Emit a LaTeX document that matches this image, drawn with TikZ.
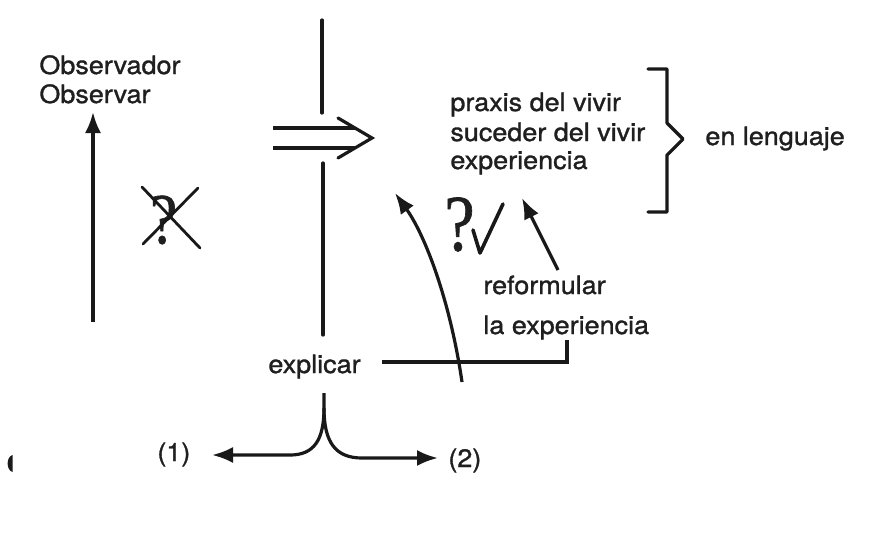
\documentclass[tikz,border=0pt]{standalone}
\usepackage{fontspec}
\newfontfamily\hv{TeX Gyre Heros}[FakeStretch=1.07,FakeBold=1.2]
\newfontfamily\qf{Liberation Serif}[FakeBold=0.9]
\usetikzlibrary{arrows.meta}
\begin{document}
\begin{tikzpicture}[x=0.5pt,y=-0.5pt,
  lbl/.style={font=\hv\fontsize{12.6pt}{14pt}\selectfont, inner sep=0pt, text=black!88},
  qmark/.style={inner sep=0pt, text=black!88},
  ln/.style={line width=1.6pt, black!90, line cap=round},
  arr/.style={ln, line cap=butt, -{Latex[length=10.5pt,width=8pt]}},
  ]
\useasboundingbox[fill=white] (0,0) rectangle (873,537);

% texts
\node[lbl, anchor=base west] (obs1) at (39,74) {Observador};
\node[lbl, anchor=base west] (obs2) at (39,103) {Observar};
\node[lbl, anchor=base west] (prax) at (450,111) {praxis del vivir};
\node[lbl, anchor=base west] (suce) at (450,141) {suceder del vivir};
\node[lbl, anchor=base west] (expe) at (450,169) {experiencia};
\node[lbl, anchor=base west] (leng) at (705,145) {en lenguaje};
\node[lbl, anchor=base west] (refo) at (483,294) {reformular};
\node[lbl, anchor=base west] (laex) at (483,334) {la experiencia};
\node[lbl, anchor=base west] (expl) at (268,373) {explicar};
\node[lbl, anchor=base west] (uno) at (157,461) {(1)};
\node[lbl, anchor=base west] (dos) at (448,467) {(2)};

% question marks
\node[qmark, font=\qf\fontsize{36pt}{37pt}\selectfont] (q1) at (163.5,220) {\scalebox{0.85}[1]{?}};
\node[qmark, font=\qf\fontsize{40pt}{41pt}\selectfont] (q2) at (459.5,224.5) {\scalebox{0.85}[1]{?}};

% crossed-out mark
\draw[ln, line width=1.4pt] (142,187) -- (200,248);
\draw[ln, line width=1.4pt] (198,188) -- (143,244);

% check mark
\draw[ln, line width=1.8pt, line join=round] (473,230) -- (480,253) -- (503,204);

% up arrow to Observar
\coordinate (ua0) at (93,322);
\coordinate (ua1) at (93,112);
\draw[arr] (ua0) -- (ua1);

% central vertical line (two segments)
\coordinate (v0) at (322,20);
\coordinate (v1) at (322,113);
\coordinate (v2) at (323,163);
\coordinate (v3) at (323,335);
\draw[ln] (v0) -- (v1);
\draw[ln] (v2) -- (v3);

% double arrow
\coordinate (da1) at (273,128);
\coordinate (da2) at (355,128);
\coordinate (da3) at (273,148);
\coordinate (da4) at (355,148);
\coordinate (dh1) at (338,118);
\coordinate (dh2) at (372,138);
\coordinate (dh3) at (338,158);
\draw[ln, line cap=butt] (da1) -- (da2);
\draw[ln, line cap=butt] (da3) -- (da4);
\draw[ln, line join=miter] (dh1) -- (dh2) -- (dh3);

% right brace
\coordinate (b0) at (648,69);
\coordinate (b1) at (667,69);
\coordinate (b2) at (667,123);
\coordinate (b3) at (683,139);
\coordinate (b4) at (667,155);
\coordinate (b5) at (667,212);
\coordinate (b6) at (648,212);
\draw[ln, line join=round] (b0) -- (b1) -- (b2) -- (b3) -- (b4) -- (b5) -- (b6);

% curved arrow from below the explicar line up to the texts
\coordinate (c0) at (462,382);
\coordinate (c1) at (395,193);
\draw[arr] (c0) .. controls (450,300) and (425,235) .. (c1);

% arrow from reformular to experiencia
\coordinate (r0) at (558,270);
\coordinate (r1) at (522,198);
\draw[arr] (r0) -- (r1);

% line from explicar to la experiencia
\coordinate (e0) at (382,362);
\coordinate (e1) at (567,362);
\coordinate (e2) at (567,340);
\draw[ln, line join=miter, line cap=butt] (e0) -- (e1) -- (e2);

% fork below explicar
\coordinate (f0) at (324,393);
\coordinate (f1) at (324,408);
\coordinate (fl) at (212,455);
\coordinate (fr) at (438,458);
\draw[arr] (f0) -- (f1) .. controls (324,440) and (314,455) .. (290,455) -- (fl);
\draw[arr] (f1) .. controls (324,443) and (336,458) .. (362,458) -- (fr);

% scan mark at left edge
\fill[black!90] (12.5,455) .. controls (6,457) and (6,470) .. (12.5,472) -- cycle;
\end{tikzpicture}
\end{document}
